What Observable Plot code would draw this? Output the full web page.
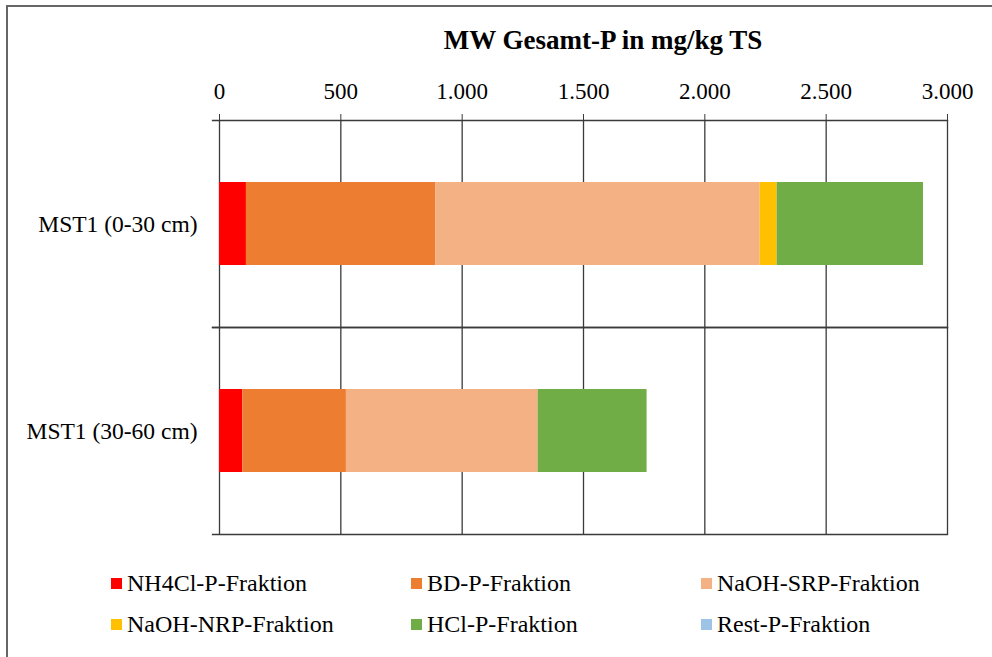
<!DOCTYPE html>
<html>
<head>
<meta charset="utf-8">
<script src="https://cdn.jsdelivr.net/npm/d3@7"></script>
<script src="https://cdn.jsdelivr.net/npm/@observablehq/plot@0.6"></script>
<style>
  html, body { margin: 0; padding: 0; background: #fff; }
  body { width: 992px; height: 657px; position: relative; overflow: hidden; font-family: "Liberation Serif", "Times New Roman", Times, serif; }
  #border { position: absolute; left: 6px; top: 5px; width: 1000px; height: 700px; border-left: 2px solid #666; border-top: 2px solid #666; }
  #chart { position: absolute; left: 0; top: 0; }
  #title { position: absolute; left: 239px; width: 728px; top: 24px; line-height: 32px; text-align: center; font-weight: bold; font-size: 27px; color: #000; font-family: "Liberation Serif", "Times New Roman", Times, serif; }
  #legend { position: absolute; left: 111px; top: 569px; display: grid; grid-template-columns: 300px 290px 300px; row-gap: 13px; font-size: 24px; color: #000; font-family: "Liberation Serif", "Times New Roman", Times, serif; }
  .item { display: flex; align-items: center; height: 28px; white-space: nowrap; }
  .sw { width: 11px; height: 11px; margin-right: 5px; flex: none; }
</style>
</head>
<body>
<div id="border"></div>
<div id="chart"></div>
<div id="title">MW Gesamt-P in mg/kg TS</div>
<div id="legend"></div>
<script>
const categories = ["MST1 (0-30 cm)", "MST1 (30-60 cm)"];
const fractions = ["NH4Cl-P-Fraktion", "BD-P-Fraktion", "NaOH-SRP-Fraktion", "NaOH-NRP-Fraktion", "HCl-P-Fraktion", "Rest-P-Fraktion"];
const colors = ["#FF0000", "#ED7D31", "#F4B183", "#FFC000", "#70AD47", "#9DC3E6"];
const nh4cl = [111, 96];
const bd = [781, 427];
const naohSrp = [1336, 790];
const naohNrp = [70, 0];
const hcl = [603, 449];
const rest = [0, 0];
const xTicks = [0, 500, 1000, 1500, 2000, 2500, 3000];

const series = [nh4cl, bd, naohSrp, naohNrp, hcl, rest];
const rows = [];
categories.forEach((c, i) => {
  fractions.forEach((f, j) => rows.push({category: c, fraction: f, value: series[j][i]}));
});

const de = d3.formatLocale({decimal: ",", thousands: ".", grouping: [3], currency: ["", " €"]});
const fmt = de.format(",");
const lineColor = "#3a3a3a";

const chart = Plot.plot({
  width: 992,
  height: 545,
  marginLeft: 219,
  marginRight: 45,
  marginTop: 120,
  marginBottom: 11,
  style: {fontFamily: "Liberation Serif, Times New Roman, serif", fontSize: "23px", color: "#000", background: "transparent"},
  x: {domain: [0, 3000], axis: null},
  fy: {domain: categories, padding: 0, label: null, axis: null},
  color: {domain: fractions, range: colors},
  marks: [
    Plot.gridX(xTicks, {stroke: lineColor, strokeOpacity: 1, strokeWidth: 1.3}),
    Plot.barX(rows, {x: "value", fy: "category", fill: "fraction", insetTop: 62, insetBottom: 62, order: null}),
    Plot.frame({anchor: "top", insetLeft: -7, stroke: lineColor, strokeWidth: 1.3}),
    Plot.frame({anchor: "bottom", insetLeft: -7, stroke: lineColor, strokeWidth: 1.3}),
    Plot.axisX(xTicks, {anchor: "top", tickFormat: fmt, tickSize: 7, tickPadding: 15, stroke: lineColor, label: null, fontSize: 23}),
    Plot.axisFy({anchor: "left", tickSize: 0, tickPadding: 22, label: null, fontSize: 23.5})
  ]
});
document.getElementById("chart").appendChild(chart);

const legend = document.getElementById("legend");
fractions.forEach((f, i) => {
  const item = document.createElement("div");
  item.className = "item";
  const sw = document.createElement("span");
  sw.className = "sw";
  sw.style.background = colors[i];
  item.appendChild(sw);
  item.appendChild(document.createTextNode(f));
  legend.appendChild(item);
});
</script>
</body>
</html>
